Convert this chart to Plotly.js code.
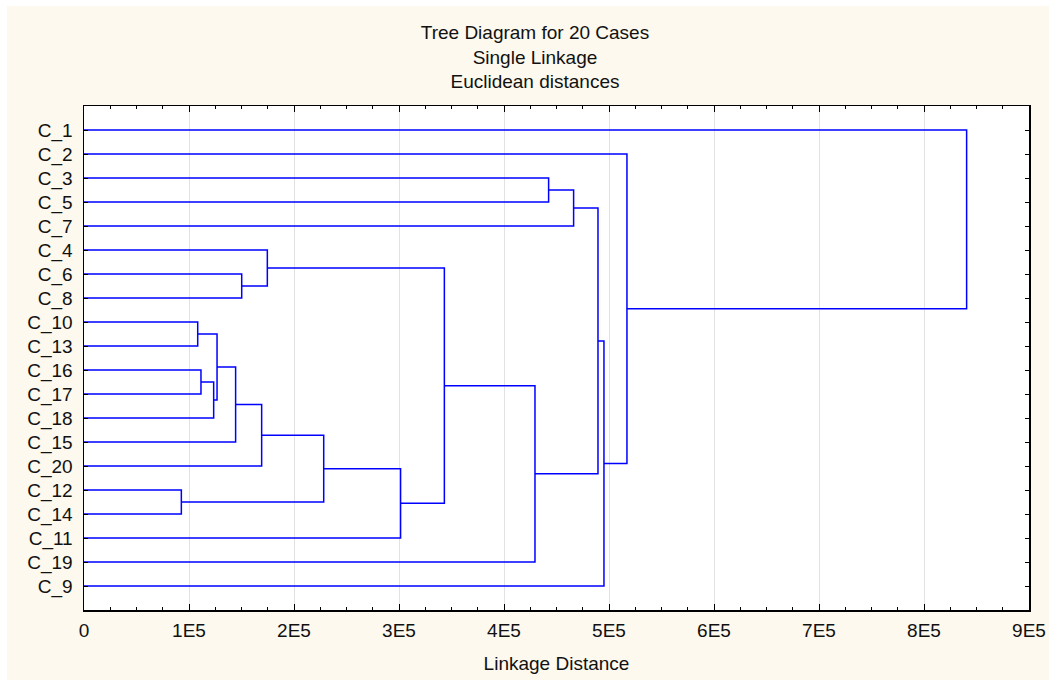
<!DOCTYPE html>
<html><head><meta charset="utf-8">
<script src="https://cdn.plot.ly/plotly-3.0.1.min.js"></script>
<style>html,body{margin:0;padding:0;background:#ffffff;} #chart{position:absolute;left:7px;top:6px;width:1042px;height:674px;}</style>
</head><body><div id="chart"></div>
<script>
// Leaf order (top to bottom)
const leafLabels = ["C_1","C_2","C_3","C_5","C_7","C_4","C_6","C_8","C_10","C_13","C_16","C_17","C_18","C_15","C_20","C_12","C_14","C_11","C_19","C_9"];
// Merges: "N<k>" refers to the cluster formed at merge k
const mergeLeft   = ["C_12","C_10","C_16","N2","N1","N4","C_6","N5","C_4","N7","N9","N8","N11","C_3","N13","N14","N15","C_2","C_1"];
const mergeRight  = ["C_14","C_13","C_17","C_18","N3","C_15","C_8","C_20","N6","N0","C_11","N10","C_19","C_5","C_7","N12","C_9","N16","N17"];
const mergeHeight = [92700,108300,111400,123500,126700,144400,150200,169200,174600,228300,301500,343200,429500,442500,466300,489500,495200,517100,840600];
// Axis ticks
const xTickVals = [0,100000,200000,300000,400000,500000,600000,700000,800000,900000];
const xTickText = ["0","1E5","2E5","3E5","4E5","5E5","6E5","7E5","8E5","9E5"];

const pos = {};
leafLabels.forEach((n,i)=>{ pos[n] = {y:i, h:0}; });
const xs = [], ys = [];
for (let k=0;k<mergeHeight.length;k++){
  const a = pos[mergeLeft[k]], b = pos[mergeRight[k]], h = mergeHeight[k];
  xs.push(a.h, h, h, b.h, null);
  ys.push(a.y, a.y, b.y, b.y, null);
  pos["N"+k] = {y:(a.y+b.y)/2, h:h};
}

const font = "Liberation Sans, Arial, sans-serif";
const trace = {x:xs, y:ys, type:"scatter", mode:"lines", line:{color:"#0000ff", width:1.5}, hoverinfo:"skip", showlegend:false};

const layout = {
  width:1042, height:674,
  margin:{l:77, r:20, t:100, b:70},
  paper_bgcolor:"#fdf9ee", plot_bgcolor:"#ffffff",
  font:{family:font, size:20, color:"#111111"},
  title:{text:"Tree Diagram for 20 Cases<br>Single Linkage<br>Euclidean distances", x:0.5067, xanchor:"center", xref:"container", yref:"container", y:0.951, yanchor:"top", font:{family:font, size:19, color:"#111111"}},
  xaxis:{range:[0,900000], tickmode:"array", tickvals:xTickVals, ticktext:xTickText, ticks:"inside", ticklen:6, tickcolor:"#000", tickwidth:1,
         showline:true, linecolor:"#000", linewidth:1.5, mirror:"ticks", showgrid:true, gridcolor:"#e2e2e2", gridwidth:1, zeroline:false,
         minor:{tickmode:"linear", tick0:0, dtick:25000, ticks:"inside", ticklen:3, tickcolor:"#000", showgrid:false},
         tickfont:{family:font, size:19, color:"#111"}, automargin:false, ticklabelstandoff:3,
         title:{text:"Linkage Distance", font:{family:font, size:19, color:"#111"}, standoff:16}},
  yaxis:{range:[20,-1], tickmode:"array", tickvals:leafLabels.map((_,i)=>i), ticktext:leafLabels, ticks:"inside", ticklen:4, tickcolor:"#000",
         showline:true, linecolor:"#000", linewidth:1.5, mirror:"ticks", showgrid:false, zeroline:false,
         tickfont:{family:font, size:19, color:"#111"}, automargin:false, ticklabelstandoff:6},
  showlegend:false
};
Plotly.newPlot("chart", [trace], layout, {displayModeBar:false, staticPlot:true});
</script></body></html>
